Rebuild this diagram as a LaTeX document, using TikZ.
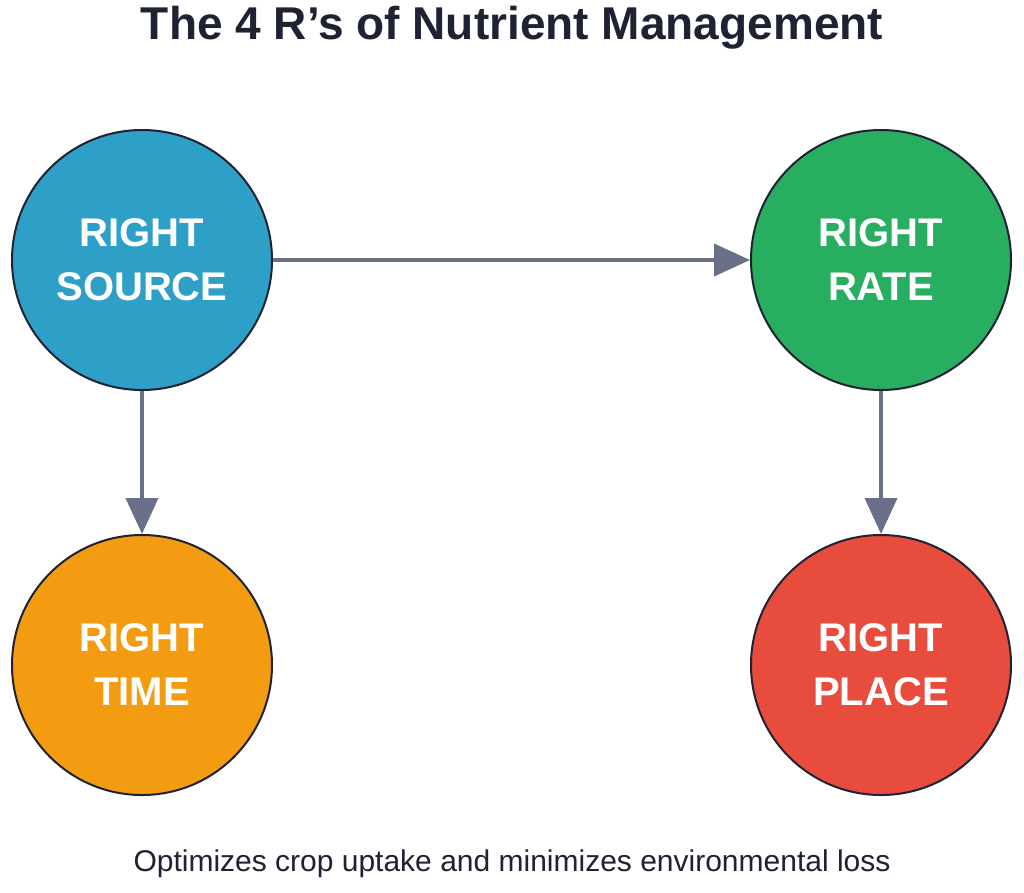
\documentclass[tikz,border=0pt]{standalone}
\usepackage{fontspec}
\setmainfont{Liberation Sans}
\usetikzlibrary{arrows.meta}
\definecolor{cblue}{HTML}{2E9FC6}
\definecolor{cgreen}{HTML}{27AE60}
\definecolor{corange}{HTML}{F39C12}
\definecolor{cred}{HTML}{E74C3C}
\definecolor{carrow}{HTML}{6B7089}
\definecolor{ctext}{HTML}{1F2233}
\begin{document}
\begin{tikzpicture}[x=1pt,y=-1pt,
  rcircle/.style={circle,draw=ctext,line width=2pt,minimum size=260pt,inner sep=0pt,
    text=white,font=\fontsize{40}{54}\selectfont\bfseries,align=center},
  conn/.style={draw=carrow,line width=4pt,-{Triangle[length=36pt,width=32pt]}}]
\useasboundingbox[fill=white] (0,0) rectangle (1024,892);
\node[font=\fontsize{46}{54}\selectfont\bfseries,text=ctext] (title) at (512,28) {The 4 R's of Nutrient Management};
\node[rcircle,fill=cblue] (source) at (142,260) {RIGHT\\SOURCE};
\node[rcircle,fill=cgreen] (rate) at (881,260) {RIGHT\\RATE};
\node[rcircle,fill=corange] (time) at (142,665) {RIGHT\\TIME};
\node[rcircle,fill=cred] (place) at (881,665) {RIGHT\\PLACE};
\draw[conn] (source) -- (rate);
\draw[conn] (source) -- (time);
\draw[conn] (rate) -- (place);
\node[font=\fontsize{30}{36}\selectfont,text=ctext] (sub) at (512,864) {Optimizes crop uptake and minimizes environmental loss};
\end{tikzpicture}
\end{document}
